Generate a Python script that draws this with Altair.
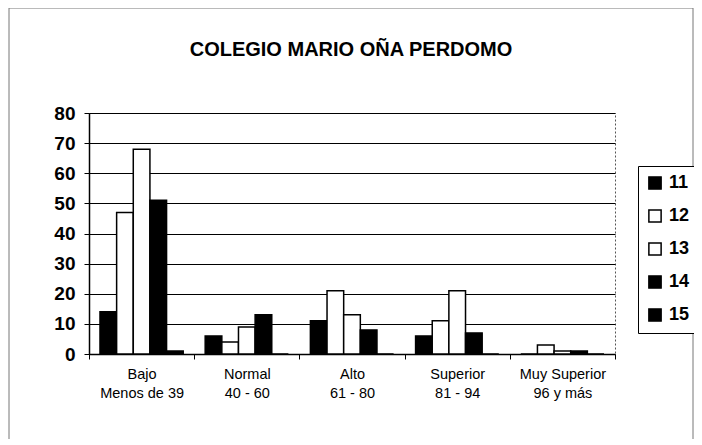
import altair as alt
import pandas as pd

categories = ["Bajo|Menos de 39", "Normal|40 - 60", "Alto|61 - 80", "Superior|81 - 94", "Muy Superior|96 y más"]
grades = ["11", "12", "13", "14", "15"]
values = {
    "11": [14, 6, 11, 6, 0],
    "12": [47, 4, 21, 11, 3],
    "13": [68, 9, 13, 21, 1],
    "14": [51, 13, 8, 7, 1],
    "15": [1, 0, 0, 0, 0],
}
colors = ["#000000", "#ffffff", "#ffffff", "#000000", "#000000"]
title_text = "COLEGIO MARIO OÑA PERDOMO"

rows = []
for g in grades:
    for c, v in zip(categories, values[g]):
        rows.append({"cat": c, "grado": g, "valor": v})
df = pd.DataFrame(rows)

FONT = "Liberation Sans"

bars = alt.Chart(df).mark_bar(stroke="black", strokeWidth=1.5).encode(
    x=alt.X("cat:N", sort=categories,
            scale=alt.Scale(paddingInner=0, paddingOuter=0),
            axis=alt.Axis(title=None, labelAngle=0, labelExpr="split(datum.label, '|')",
                          labelFontSize=14.5, labelFont=FONT, labelColor="black",
                          labelLineHeight=19, labelPadding=8, tickBand="extent",
                          ticks=True, tickSize=5, tickColor="black",
                          domainColor="black", domainWidth=1.5, grid=False)),
    xOffset=alt.XOffset("grado:N", sort=grades, scale=alt.Scale(paddingOuter=0.66, paddingInner=0)),
    y=alt.Y("valor:Q", scale=alt.Scale(domain=[0, 80]),
            axis=alt.Axis(title=None, values=list(range(0, 81, 10)), labelFontSize=19,
                          labelFontWeight="bold", labelFont=FONT, labelColor="black",
                          labelPadding=9, tickSize=5, tickColor="black",
                          domainColor="black", domainWidth=1.5,
                          grid=True, gridColor="black", gridWidth=1, gridOpacity=1)),
    color=alt.Color("grado:N", sort=grades,
                    scale=alt.Scale(domain=grades, range=colors),
                    legend=alt.Legend(title=None, orient="none", legendX=549, legendY=53,
                                      symbolType="square", symbolSize=150,
                                      symbolStrokeColor="black", symbolStrokeWidth=1.5,
                                      labelFontSize=18, labelFontWeight="bold", labelFont=FONT,
                                      labelColor="black", rowPadding=13,
                                      padding=8, strokeColor="black", fillColor="white",
                                      labelOffset=5)),
)

frame = alt.Chart(alt.Data(values=[{}])).mark_rect(
    fillOpacity=0, stroke="#777", strokeWidth=1, clip=False
).encode(x=alt.value(-80), x2=alt.value(604), y=alt.value(-105), y2=alt.value(345))

title = alt.Chart(alt.Data(values=[{"t": title_text}])).mark_text(
    fontSize=20, fontWeight="bold", font=FONT, color="black",
    align="center", baseline="alphabetic", clip=False
).encode(text="t:N", x=alt.value(262), y=alt.value(-57))

chart = alt.layer(frame, bars, title).properties(
    width=526, height=241,
    autosize=alt.AutoSizeParams(type="none"),
    padding={"left": 81, "top": 105, "right": 79, "bottom": 85},
).configure_view(stroke="#555", strokeDash=[2, 2], fill="white")

chart.save("out.html", embed_options={"renderer": "svg", "actions": False})
